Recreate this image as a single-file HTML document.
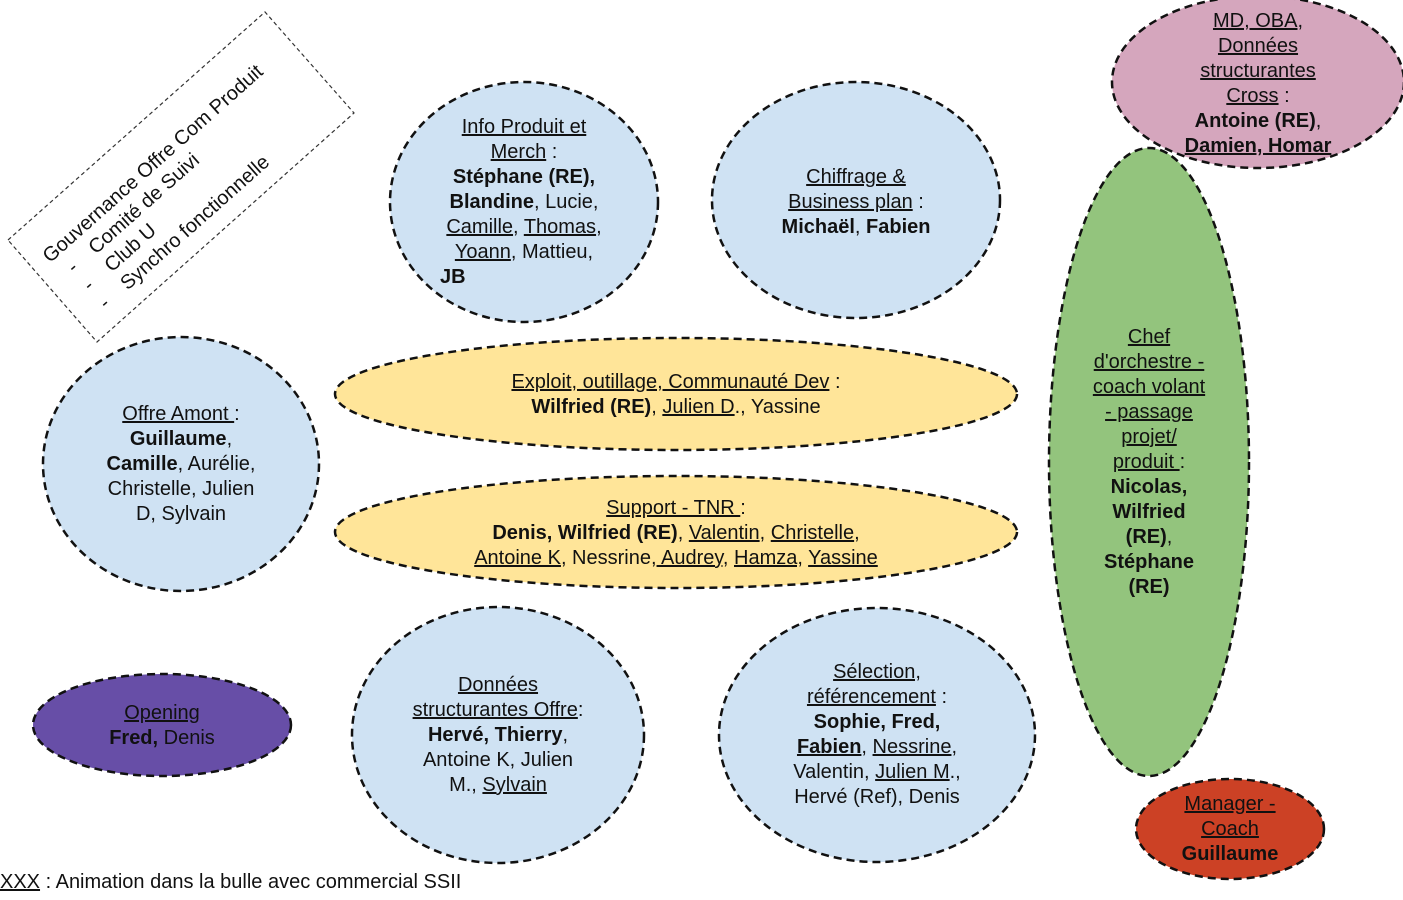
<!DOCTYPE html>
<html><head><meta charset="utf-8"><style>
body{margin:0;width:1403px;height:900px;background:#fff;position:relative;overflow:hidden;font-family:"Liberation Sans",Arial,sans-serif;color:#111}
svg{position:absolute;left:0;top:0}
.t{position:absolute;font-size:20px;line-height:25px;text-align:center;white-space:nowrap}
u{text-decoration:underline}
b{font-weight:bold}
</style></head><body>
<svg width="1403" height="900">
<g stroke="#111" stroke-width="2.5" stroke-dasharray="8,5">
<ellipse cx="524" cy="202" rx="134" ry="120" fill="#cfe2f3"/>
<ellipse cx="856" cy="200" rx="144" ry="118" fill="#cfe2f3"/>
<ellipse cx="1149" cy="462" rx="100" ry="314" fill="#93c47d"/>
<ellipse cx="1258" cy="82" rx="146" ry="86" fill="#d5a6bd"/>
<ellipse cx="181" cy="464" rx="138" ry="127" fill="#cfe2f3"/>
<ellipse cx="676" cy="394" rx="341" ry="56" fill="#ffe599"/>
<ellipse cx="676" cy="532" rx="341" ry="56" fill="#ffe599"/>
<ellipse cx="162" cy="725" rx="129" ry="51" fill="#674ea7"/>
<ellipse cx="498" cy="735" rx="146" ry="128" fill="#cfe2f3"/>
<ellipse cx="877" cy="735" rx="158" ry="127" fill="#cfe2f3"/>
<ellipse cx="1230" cy="829" rx="94" ry="50" fill="#cc4125"/>
</g>
<polygon points="8,240 265,12 354,113 97,342" fill="none" stroke="#333" stroke-width="1.2" stroke-dasharray="4,3"/>
</svg>

<div class="t" style="left:30px;top:95px;width:300px;transform:rotate(-41.6deg);transform-origin:0 0;left:38px;top:250px;text-align:left;font-size:20px;line-height:24px">
Gouvernance Offre Com Produit<br>&nbsp;&nbsp;-&nbsp;&nbsp;&nbsp;&nbsp;Comité de Suivi<br>&nbsp;&nbsp;-&nbsp;&nbsp;&nbsp;&nbsp;Club U<br>&nbsp;&nbsp;-&nbsp;&nbsp;&nbsp;&nbsp;Synchro fonctionnelle</div>

<div class="t" style="left:424px;top:115px;width:200px"><u>Info Produit et</u><br><u>Merch</u> :<br><b>Stéphane (RE),</b><br><b>Blandine</b>, Lucie,<br><u>Camille</u>, <u>Thomas</u>,<br><u>Yoann</u>, Mattieu,<br><div style="text-align:left;padding-left:16px"><b>JB</b></div></div>

<div class="t" style="left:756px;top:165px;width:200px"><u>Chiffrage &amp;</u><br><u>Business plan</u> :<br><b>Michaël</b>, <b>Fabien</b></div>

<div class="t" style="left:1158px;top:9px;width:200px"><u>MD, OBA,</u><br><u>Données</u><br><u>structurantes</u><br><u>Cross</u> :<br><b>Antoine (RE)</b>,<br><b><u>Damien, Homar</u></b></div>

<div class="t" style="left:1049px;top:325px;width:200px"><u>Chef</u><br><u>d'orchestre -</u><br><u>coach volant</u><br><u>- passage</u><br><u>projet/</u><br><u>produit </u>:<br><b>Nicolas,</b><br><b>Wilfried</b><br><b>(RE)</b>,<br><b>Stéphane</b><br><b>(RE)</b></div>

<div class="t" style="left:81px;top:402px;width:200px"><u>Offre Amont </u>:<br><b>Guillaume</b>,<br><b>Camille</b>, Aurélie,<br>Christelle, Julien<br>D, Sylvain</div>

<div class="t" style="left:476px;top:370px;width:400px"><u>Exploit, outillage, Communauté Dev</u> :<br><b>Wilfried (RE)</b>, <u>Julien D</u>., Yassine</div>

<div class="t" style="left:426px;top:496px;width:500px"><u>Support - TNR </u>:<br><b>Denis, Wilfried (RE)</b>, <u>Valentin</u>, <u>Christelle</u>,<br><u>Antoine K</u>, Nessrine,<u> Audrey,</u> <u>Hamza,</u> <u>Yassine</u></div>

<div class="t" style="left:62px;top:701px;width:200px"><u>Opening</u><br><b>Fred,</b> Denis</div>

<div class="t" style="left:373px;top:673px;width:250px"><u>Données</u><br><u>structurantes Offre</u>:<br><b>Hervé, Thierry</b>,<br>Antoine K, Julien<br>M., <u>Sylvain</u></div>

<div class="t" style="left:752px;top:660px;width:250px"><u>Sélection,</u><br><u>référencement</u> :<br><b>Sophie, Fred,</b><br><b><u>Fabien</u></b>, <u>Nessrine</u>,<br>Valentin, <u>Julien M</u>.,<br>Hervé (Ref), Denis</div>

<div class="t" style="left:1130px;top:792px;width:200px"><u>Manager -</u><br><u>Coach</u><br><b>Guillaume</b></div>

<div class="t" style="left:0;top:870px;text-align:left"><u>XXX</u> : Animation dans la bulle avec commercial SSII</div>
</body></html>
